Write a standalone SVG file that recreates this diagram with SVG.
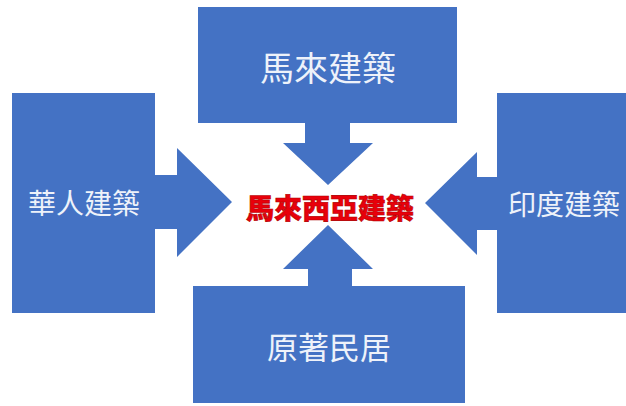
<svg xmlns="http://www.w3.org/2000/svg" width="626" height="406" viewBox="0 0 626 406">
<style>
.box{fill:#4472C4;}
.arr{fill:#4472C4;}
.lbl{fill:#EEF2FA;font-family:"Noto Sans CJK TC","Noto Sans CJK SC",sans-serif;text-anchor:middle;dominant-baseline:central;}
.ctr{fill:#E8000B;stroke:#B00000;stroke-width:0.6;font-family:"Noto Sans CJK TC","Noto Sans CJK SC",sans-serif;font-weight:900;text-anchor:middle;dominant-baseline:central;}
</style>
<rect width="626" height="406" fill="#FFFFFF"/>
<g id="connectors">
<polygon class="arr" points="305,122 350,122 350,143 373,143 328,185 283,143 305,143"/>
<polygon class="arr" points="154,175 177,175 177,148 232,202 177,257 177,229 154,229"/>
<polygon class="arr" points="498,177 477,177 477,152 425,203 477,255 477,230 498,230"/>
<polygon class="arr" points="308,287 352,287 352,269 373,269 328,225 283,269 308,269"/>
</g>
<g id="node-malay">
<rect class="box" x="198" y="7" width="259" height="116"/>
<text class="lbl" x="328" y="66" font-size="34">馬來建築</text>
</g>
<g id="node-chinese">
<rect class="box" x="12" y="93" width="143" height="220"/>
<text class="lbl" x="84" y="202" font-size="28">華人建築</text>
</g>
<g id="node-indian">
<rect class="box" x="497" y="93" width="129" height="220"/>
<text class="lbl" x="564" y="203" font-size="28">印度建築</text>
</g>
<g id="node-orang-asli">
<rect class="box" x="193" y="286" width="272" height="117"/>
<text class="lbl" x="329" y="345" font-size="31">原著民居</text>
</g>
<g id="node-center">
<text class="ctr" x="330" y="207" font-size="28">馬來西亞建築</text>
</g>
</svg>
